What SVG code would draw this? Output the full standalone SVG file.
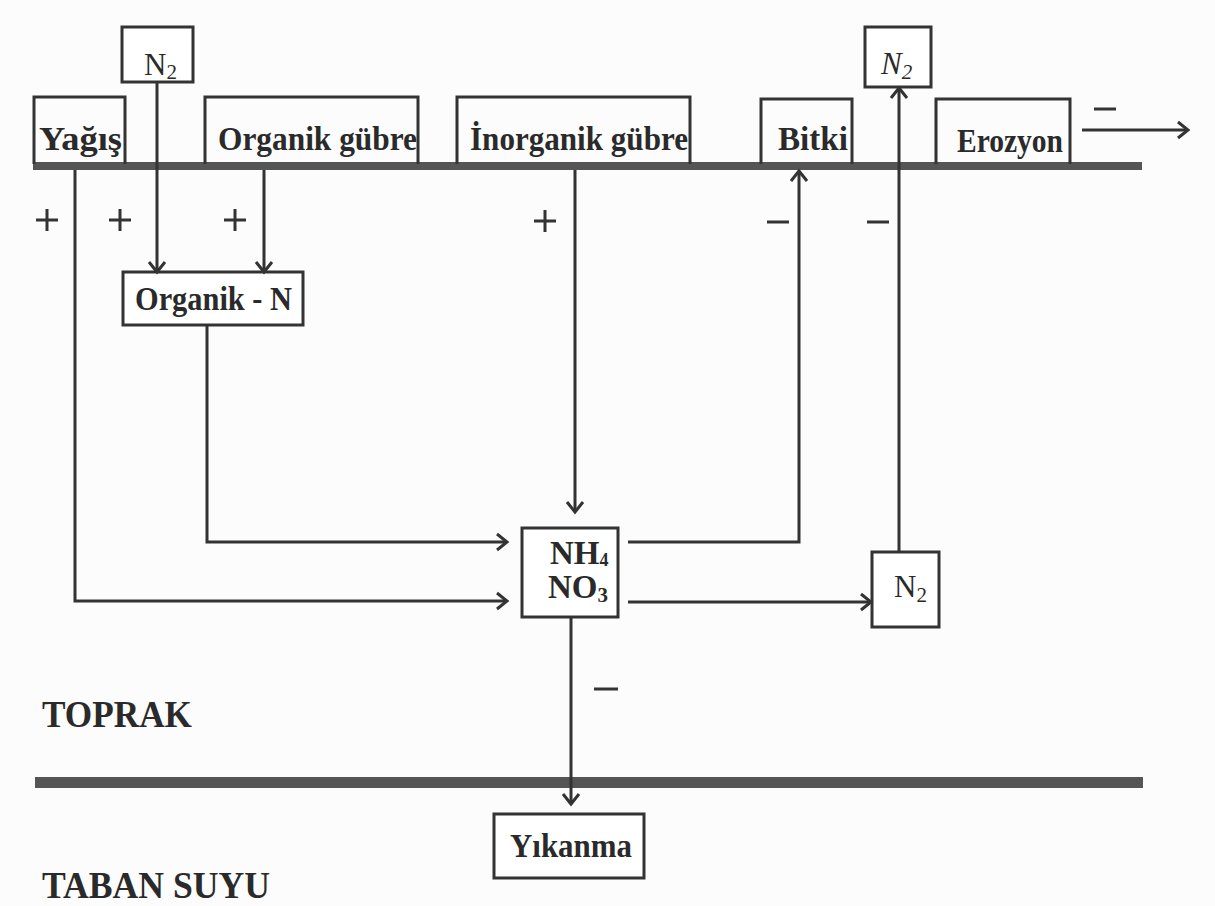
<svg xmlns="http://www.w3.org/2000/svg" width="1215" height="906" viewBox="0 0 1215 906">
<defs>
<style>
.box{fill:#fff;stroke:#333;stroke-width:3}
.open{fill:none;stroke:#333;stroke-width:3}
.bar{fill:#555}
.lbl{font-family:"Liberation Serif","Times New Roman",serif;font-weight:bold;font-size:33px;fill:#2a2a2a}
.reg{font-family:"Liberation Serif","Times New Roman",serif;font-size:31px;fill:#2a2a2a}
.big{font-family:"Liberation Serif","Times New Roman",serif;font-weight:bold;font-size:37px;fill:#2a2a2a}
.sign{stroke:#333;stroke-width:3;fill:none}
.conn{fill:none;stroke:#333;stroke-width:3;marker-end:url(#arr)}
</style>
<marker id="arr" markerUnits="userSpaceOnUse" markerWidth="16" markerHeight="20" refX="13" refY="9" orient="auto" viewBox="0 0 16 18">
<path d="M3,1 L13,9 L3,17" fill="none" stroke="#333" stroke-width="3"/>
</marker>
</defs>
<rect x="0" y="0" width="1215" height="906" fill="#fcfcfc"/>

<g id="bars">
<rect class="bar" x="33" y="162" width="1109" height="8"/>
<rect class="bar" x="35" y="777" width="1108" height="11"/>
</g>

<g id="node-n2-top-left">
<rect class="box" x="122" y="27" width="71" height="55"/>
<text class="reg" x="144" y="75">N<tspan font-size="21" dy="4">2</tspan></text>
</g>

<g id="node-yagis">
<path class="open" d="M34,164 L34,97 L125,97 L125,164"/>
<text class="lbl" x="39" y="150" textLength="83" lengthAdjust="spacingAndGlyphs">Yağış</text>
</g>

<g id="node-organik-gubre">
<path class="open" d="M205,164 L205,97 L418,97 L418,164"/>
<text class="lbl" x="218" y="150" textLength="199" lengthAdjust="spacingAndGlyphs">Organik gübre</text>
</g>

<g id="node-inorganik-gubre">
<path class="open" d="M457,164 L457,97 L690,97 L690,164"/>
<text class="lbl" x="470" y="150" textLength="218" lengthAdjust="spacingAndGlyphs">İnorganik gübre</text>
</g>

<g id="node-bitki">
<path class="open" d="M761,164 L761,99 L852,99 L852,164"/>
<text class="lbl" x="778" y="150" textLength="70" lengthAdjust="spacingAndGlyphs">Bitki</text>
</g>

<g id="node-n2-top-right">
<rect class="box" x="865" y="27" width="66" height="60"/>
<text class="reg" x="881" y="74" font-style="italic">N<tspan font-size="21" dy="5">2</tspan></text>
</g>

<g id="node-erozyon">
<path class="open" d="M936,164 L936,99 L1070,99 L1070,164"/>
<text class="lbl" x="957" y="152" textLength="106" lengthAdjust="spacingAndGlyphs">Erozyon</text>
</g>

<g id="node-organik-n">
<rect class="box" x="123" y="272" width="180" height="53"/>
<text class="lbl" x="135" y="310" textLength="157" lengthAdjust="spacingAndGlyphs">Organik - N</text>
</g>

<g id="node-nh4-no3">
<rect class="box" x="522" y="528" width="96" height="89"/>
<text class="lbl" x="550" y="564" font-size="30">NH<tspan font-size="18" dy="2">4</tspan></text>
<text class="lbl" x="548" y="598" font-size="30">NO<tspan font-size="21" dy="4">3</tspan></text>
</g>

<g id="node-n2-lower">
<rect class="box" x="872" y="552" width="67" height="75"/>
<text class="reg" x="894" y="597">N<tspan font-size="21" dy="5">2</tspan></text>
</g>

<g id="node-yikanma">
<rect class="box" x="494" y="814" width="150" height="64"/>
<text class="lbl" x="510" y="857" font-size="30" textLength="122" lengthAdjust="spacingAndGlyphs">Yıkanma</text>
</g>

<g id="labels">
<text class="big" x="42" y="727" textLength="150" lengthAdjust="spacingAndGlyphs">TOPRAK</text>
<text class="big" x="42" y="898" textLength="228" lengthAdjust="spacingAndGlyphs">TABAN SUYU</text>
</g>

<g id="signs">
<path class="sign" d="M36,220 H58 M47,209 V231"/>
<path class="sign" d="M109,220 H131 M120,209 V231"/>
<path class="sign" d="M224,220 H246 M235,209 V231"/>
<path class="sign" d="M534,221 H556 M545,210 V232"/>
<path class="sign" d="M767,222 H789"/>
<path class="sign" d="M867,222 H889"/>
<path class="sign" d="M1094,109 H1116"/>
<path class="sign" d="M594,689 H618"/>
</g>

<g id="connectors">
<path class="conn" d="M157,82 V272"/>
<path class="conn" d="M264,170 V272"/>
<path class="conn" d="M75,170 V601 H507"/>
<path class="conn" d="M207,325 V542 H507"/>
<path class="conn" d="M575,170 V512"/>
<path class="conn" d="M628,542 H799 V171"/>
<path class="conn" d="M628,602 H871"/>
<path class="conn" d="M899,552 V88"/>
<path class="conn" d="M571,617 V804"/>
<path class="conn" d="M1082,130 H1188"/>
</g>
</svg>
